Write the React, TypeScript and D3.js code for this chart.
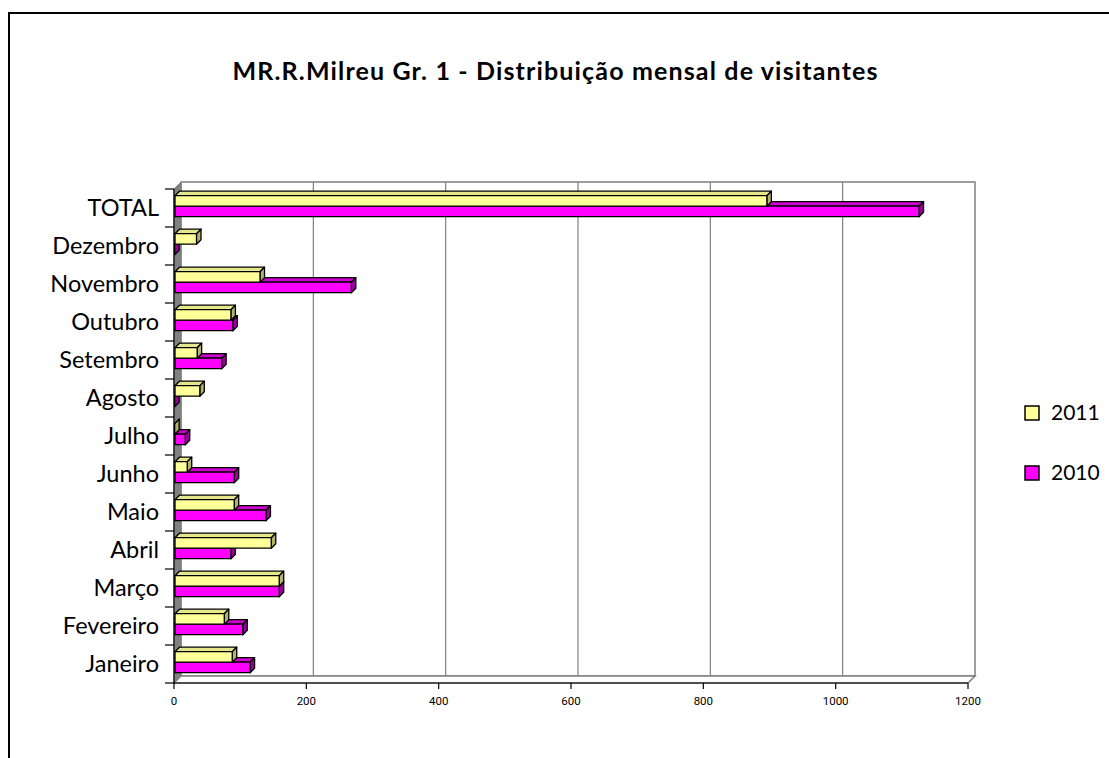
import React, { useEffect, useRef } from "react";
import * as d3 from "d3";

// categories bottom -> top as in the chart
const categories = [
  "Janeiro", "Fevereiro", "Março", "Abril", "Maio", "Junho",
  "Julho", "Agosto", "Setembro", "Outubro", "Novembro", "Dezembro", "TOTAL",
];
const values2011 = [88, 76, 159, 147, 91, 20, 1, 39, 35, 86, 130, 34, 896];
const values2010 = [115, 104, 159, 86, 139, 91, 17, 1, 72, 89, 268, 1, 1126];
const xTicks = [0, 200, 400, 600, 800, 1000, 1200];
const seriesNames = ["2011", "2010"];

const App = () => {
  const ref = useRef<SVGSVGElement>(null);

  useEffect(() => {
    const svg = d3.select(ref.current);
    svg.selectAll("*").remove();

    const left = 174, right = 968, top = 189, bottom = 683;
    const wd = 7; // wall depth
    const bd = 4.5; // bar depth
    const barH = 10.5;

    const x = d3.scaleLinear().domain([0, 1200]).range([left, right]);
    const y = d3.scaleBand()
      .domain(categories.slice().reverse())
      .range([top, bottom]);

    // outer frame
    svg.append("rect")
      .attr("x", 9).attr("y", 13)
      .attr("width", 1200).attr("height", 800)
      .attr("fill", "none").attr("stroke", "#000").attr("stroke-width", 2);

    svg.append("text")
      .attr("x", 555).attr("y", 80)
      .attr("text-anchor", "middle")
      .attr("textLength", 645)
      .attr("lengthAdjust", "spacing")
      .style("font-family", "Lato")
      .style("font-weight", "bold")
      .style("font-size", "25px")
      .text("MR.R.Milreu Gr. 1 - Distribuição mensal de visitantes");

    // back wall
    svg.append("rect")
      .attr("x", left + wd).attr("y", top - wd)
      .attr("width", right - left).attr("height", bottom - top)
      .attr("fill", "#fff").attr("stroke", "#808080").attr("stroke-width", 1.5);

    // gridlines on back wall
    svg.selectAll(".grid")
      .data(xTicks.slice(1, -1))
      .enter().append("line")
      .attr("x1", d => x(d) + wd).attr("x2", d => x(d) + wd)
      .attr("y1", top - wd).attr("y2", bottom - wd)
      .attr("stroke", "#808080").attr("stroke-width", 1.2);

    // left wall
    svg.append("path")
      .attr("d", `M${left},${top}L${left + wd},${top - wd}L${left + wd},${bottom - wd}L${left},${bottom}Z`)
      .attr("fill", "#808080").attr("stroke", "#808080");

    // floor
    svg.append("path")
      .attr("d", `M${left},${bottom}L${left + wd},${bottom - wd}L${right + wd},${bottom - wd}L${right},${bottom}Z`)
      .attr("fill", "#fff").attr("stroke", "#808080").attr("stroke-width", 1.5);

    // bars
    const drawBar = (v: number, y0: number, front: string, topC: string, side: string) => {
      const x0 = x(0) + 1, x1 = x(v);
      const g = svg.append("g")
        .attr("stroke", "#000").attr("stroke-width", 1.3).attr("stroke-linejoin", "round");
      g.append("path")
        .attr("d", `M${x0},${y0}L${x0 + bd},${y0 - bd}L${x1 + bd},${y0 - bd}L${x1},${y0}Z`)
        .attr("fill", topC);
      g.append("path")
        .attr("d", `M${x1},${y0}L${x1 + bd},${y0 - bd}L${x1 + bd},${y0 + barH - bd}L${x1},${y0 + barH}Z`)
        .attr("fill", side);
      g.append("rect")
        .attr("x", x0).attr("y", y0)
        .attr("width", Math.max(0, x1 - x0)).attr("height", barH)
        .attr("fill", front);
    };

    categories.forEach((c, i) => {
      const b = y(c)!;
      drawBar(values2010[i], b + 6.7 + barH, "#FF00FF", "#CC00CC", "#990099");
      drawBar(values2011[i], b + 6.7, "#FFFF99", "#E6E68A", "#B3B36B");
    });

    // y axis
    svg.append("line")
      .attr("x1", left).attr("x2", left).attr("y1", top).attr("y2", bottom)
      .attr("stroke", "#000").attr("stroke-width", 1.2);
    const bounds = categories.slice().reverse().map(c => y(c)!).concat([bottom]);
    svg.selectAll(".ytick")
      .data(bounds)
      .enter().append("line")
      .attr("x1", left - 9).attr("x2", left)
      .attr("y1", d => d).attr("y2", d => d)
      .attr("stroke", "#000").attr("stroke-width", 1.2);
    svg.selectAll(".ylab")
      .data(categories)
      .enter().append("text")
      .attr("x", 159)
      .attr("y", d => y(d)! + y.bandwidth() / 2)
      .attr("dy", "0.35em")
      .attr("text-anchor", "end")
      .style("font-family", "Lato")
      .style("font-size", "23.5px")
      .text(d => d);

    // x axis
    svg.append("line")
      .attr("x1", left).attr("x2", right).attr("y1", bottom).attr("y2", bottom)
      .attr("stroke", "#000").attr("stroke-width", 1.2);
    svg.selectAll(".xtick")
      .data(xTicks)
      .enter().append("line")
      .attr("x1", d => x(d)).attr("x2", d => x(d))
      .attr("y1", bottom).attr("y2", bottom + 6)
      .attr("stroke", "#000").attr("stroke-width", 1.2);
    svg.selectAll(".xlab")
      .data(xTicks)
      .enter().append("text")
      .attr("x", d => x(d))
      .attr("y", 705)
      .attr("text-anchor", "middle")
      .style("font-family", "Roboto")
      .style("font-size", "11.5px")
      .text(d => String(d));

    // legend
    const colors = ["#FFFF99", "#FF00FF"];
    seriesNames.forEach((s, i) => {
      const ly = 406 + i * 60;
      svg.append("rect")
        .attr("x", 1025).attr("y", ly).attr("width", 14).attr("height", 14)
        .attr("fill", colors[i]).attr("stroke", "#000").attr("stroke-width", 1.5);
      svg.append("text")
        .attr("x", 1051).attr("y", ly + 7).attr("dy", "0.35em")
        .style("font-family", "Lato")
        .style("font-size", "21px")
        .text(s);
    });
  }, []);

  return (
    <svg ref={ref} width={1109} height={758}
      style={{ position: "absolute", left: 0, top: 0, background: "#fff" }} />
  );
};

export default App;
